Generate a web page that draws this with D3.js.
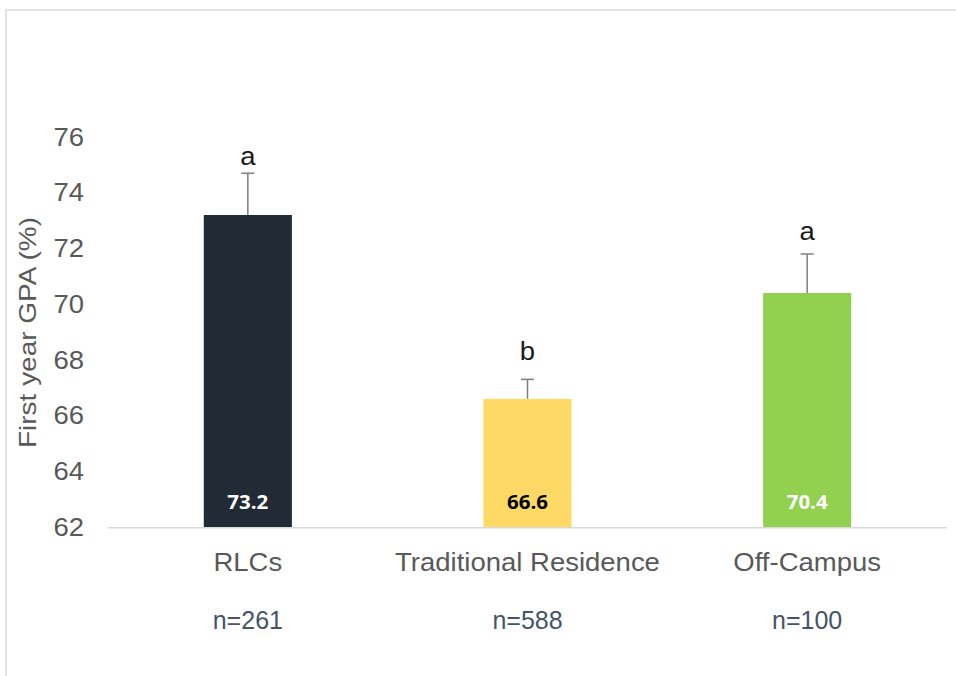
<!DOCTYPE html>
<html><head><meta charset="utf-8">
<script src="https://cdn.jsdelivr.net/npm/d3@7"></script>
<style>
html,body{margin:0;padding:0;background:#fff;}
svg{display:block;}
</style></head>
<body>
<script>
// ---- data ----
const categories = ["RLCs", "Traditional Residence", "Off-Campus"];
const values = [73.2, 66.6, 70.4];
const errors = [1.5, 0.7, 1.4];
const sigLetters = ["a", "b", "a"];
const letterLevels = [75.0, 68.0, 72.3];
const sampleSizes = ["n=261", "n=588", "n=100"];
const yTicks = [62, 64, 66, 68, 70, 72, 74, 76];
const yTitle = "First year GPA (%)";

// ---- styles ----
const barColors = ["#222A35", "#FFD966", "#92D050"];
const valueColors = ["#ffffff", "#000000", "#ffffff"];
const ARIAL = "Liberation Sans, Arial, sans-serif";
const SX = 1.1;

const W = 956, H = 676;
const m = {left: 108, right: 9, top: 137, bottom: 149};
const svg = d3.select("body").append("svg").attr("width", W).attr("height", H);

// frame
svg.append("path").attr("d", `M6,${H} V10 H${W}`)
  .attr("fill", "none").attr("stroke", "#d9d9d9").attr("stroke-width", 1.5);

const x = d3.scaleBand().domain(categories).range([m.left, W - m.right])
  .paddingInner(0.685).paddingOuter(0.3425);
const y = d3.scaleLinear().domain([62, 76]).range([H - m.bottom, m.top]);
const cx = c => x(c) + x.bandwidth() / 2;

// y axis labels
const yAxis = d3.axisLeft(y).tickValues(yTicks).tickSize(0).tickPadding(0).tickFormat(d3.format("d"));
const gy = svg.append("g").attr("transform", `translate(84,0)`).call(yAxis);
gy.select(".domain").remove();
gy.selectAll("text").attr("font-family", ARIAL)
  .attr("font-size", 25).attr("fill", "#595959").attr("dy", "0.33em")
  .attr("transform", `scale(${SX},1)`);

// axis title
svg.append("text").attr("transform", `translate(36,${(y(62)+y(76))/2 + 0.5}) rotate(-90)`)
  .attr("text-anchor", "middle").attr("font-family", ARIAL)
  .attr("font-size", 24).attr("fill", "#595959")
  .attr("textLength", 231).attr("lengthAdjust", "spacingAndGlyphs").text(yTitle);

const data = categories.map((c, i) => ({c, v: values[i], e: errors[i], l: sigLetters[i], ly: letterLevels[i], n: sampleSizes[i], i}));

// error bars
const eb = svg.append("g").attr("stroke", "#7f7f7f").attr("stroke-width", 1.5);
data.forEach(d => {
  const px = cx(d.c);
  eb.append("line").attr("x1", px).attr("x2", px).attr("y1", y(d.v)).attr("y2", y(d.v + d.e));
  eb.append("line").attr("x1", px - 6.5).attr("x2", px + 6.5).attr("y1", y(d.v + d.e)).attr("y2", y(d.v + d.e));
});

// bars
svg.append("g").selectAll("rect").data(data).join("rect")
  .attr("x", d => x(d.c)).attr("width", x.bandwidth())
  .attr("y", d => y(d.v)).attr("height", d => y(62) - y(d.v))
  .attr("fill", d => barColors[d.i]);

// baseline
svg.append("line").attr("x1", m.left).attr("x2", W - m.right)
  .attr("y1", y(62) + 0.75).attr("y2", y(62) + 0.75)
  .attr("stroke", "#d9d9d9").attr("stroke-width", 1.5);

// value labels
svg.append("g").selectAll("text").data(data).join("text")
  .attr("transform", d => `translate(${cx(d.c)},${y(62) - 18}) scale(1.05,1)`)
  .attr("text-anchor", "middle")
  .attr("font-family", "Open Sans, sans-serif")
  .attr("font-weight", "bold").attr("font-size", 19.5)
  .attr("fill", d => valueColors[d.i]).text(d => d.v.toFixed(1));

// significance letters
svg.append("g").selectAll("text").data(data).join("text")
  .attr("transform", d => `translate(${cx(d.c)},${y(d.ly)}) scale(${SX},1)`)
  .attr("text-anchor", "middle").attr("font-family", ARIAL)
  .attr("font-size", 25).attr("fill", "#1a1a1a").text(d => d.l);

// category labels
svg.append("g").selectAll("text").data(data).join("text")
  .attr("transform", d => `translate(${cx(d.c)},${y(62) + 44}) scale(${SX},1)`)
  .attr("text-anchor", "middle").attr("font-family", ARIAL)
  .attr("font-size", 25).attr("fill", "#595959").text(d => d.c);

// sample sizes
svg.append("g").selectAll("text").data(data).join("text")
  .attr("x", d => cx(d.c)).attr("y", y(62) + 102)
  .attr("text-anchor", "middle")
  .attr("font-family", ARIAL)
  .attr("font-size", 25).attr("fill", "#44546A").text(d => d.n);
</script>
</body></html>
